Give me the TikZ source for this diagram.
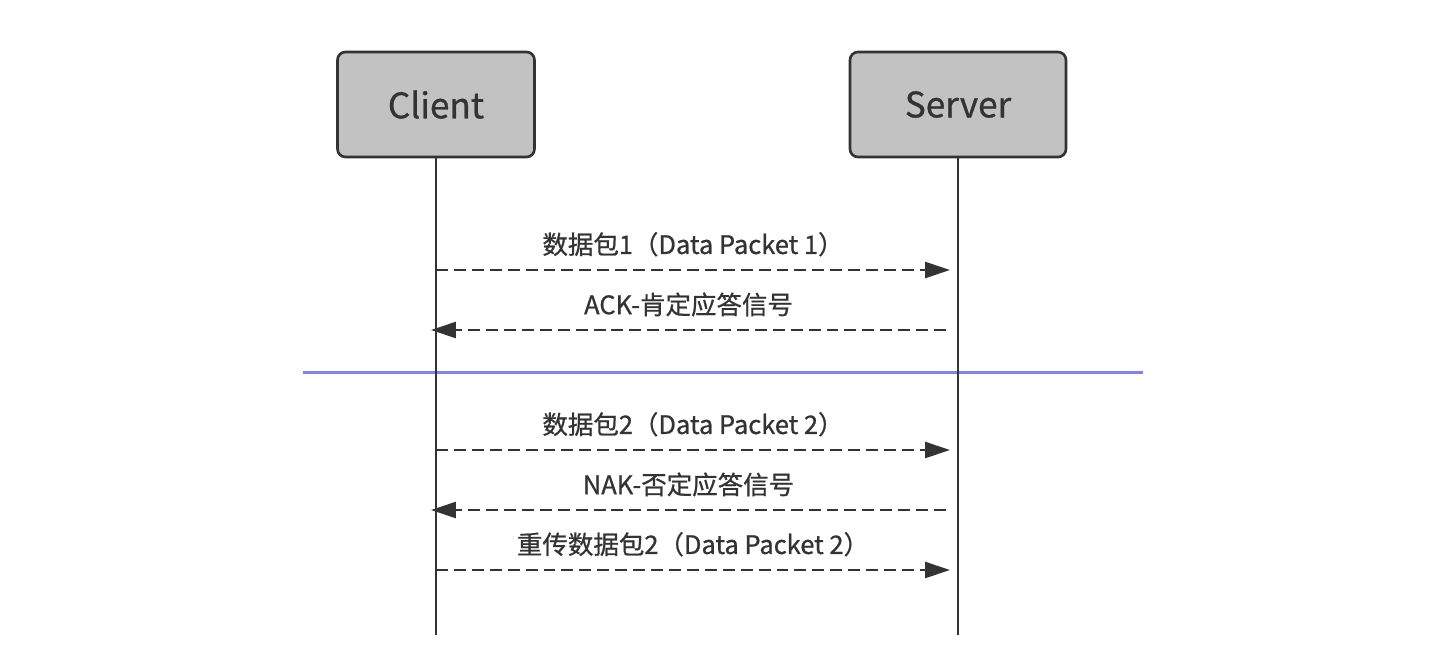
\documentclass[tikz,border=0pt]{standalone}
\usepackage{fontspec}
\setmainfont{Noto Sans CJK SC}[FakeBold=0.8]
\usepackage{tikz}
\usetikzlibrary{arrows.meta}
\definecolor{linegray}{HTML}{333333}
\definecolor{boxgray}{HTML}{C2C2C2}
\definecolor{sepblue}{HTML}{7F86E0}

\begin{document}
\begin{tikzpicture}[x=0.02cm,y=-0.02cm,
  actor/.style={shape=rectangle,draw=linegray,fill=boxgray,line width=1.5pt,
    rounded corners=4.5pt,minimum height=2.1cm,text=linegray,
    font=\fontsize{20}{24}\selectfont},
  lifeline/.style={draw=linegray,line width=1.5pt},
  msg/.style={draw=linegray,line width=1.5pt,dash pattern=on 6.8pt off 3.4pt,
    -{Triangle[length=0.5cm,width=0.32cm]}},
  lbl/.style={midway,above=7pt,inner sep=0pt,text=linegray,
    font=\fontsize{14.5}{17}\selectfont}]
\useasboundingbox (0,0) rectangle (1448,660);

\node[actor,minimum width=3.94cm] (client) at (436,104.5) {Client};
\node[actor,minimum width=4.32cm] (server) at (958,104.5) {Server};

\coordinate (cend) at (436,635);
\coordinate (send) at (958,635);

% divider between the two exchanges
\coordinate (sepL) at (303,372);
\coordinate (sepR) at (1143,372);
\draw[sepblue,line width=1.7pt] (sepL) -- (sepR);

\path (client) edge[lifeline] (cend);
\path (server) edge[lifeline] (send);

% messages
\coordinate (c1) at (436,270);
\coordinate (s1) at (950,270);
\coordinate (s2) at (946,330);
\coordinate (c2) at (431,330);
\coordinate (c3) at (436,450);
\coordinate (s3) at (950,450);
\coordinate (s4) at (946,510);
\coordinate (c4) at (431,510);
\coordinate (c5) at (436,570);
\coordinate (s5) at (950,570);

\path (c1) edge[msg] node[lbl] {数据包1（Data Packet 1）} (s1);
\path (s2) edge[msg] node[lbl] {ACK-肯定应答信号} (c2);
\path (c3) edge[msg] node[lbl] {数据包2（Data Packet 2）} (s3);
\path (s4) edge[msg] node[lbl] {NAK-否定应答信号} (c4);
\path (c5) edge[msg] node[lbl] {重传数据包2（Data Packet 2）} (s5);
\end{tikzpicture}
\end{document}
